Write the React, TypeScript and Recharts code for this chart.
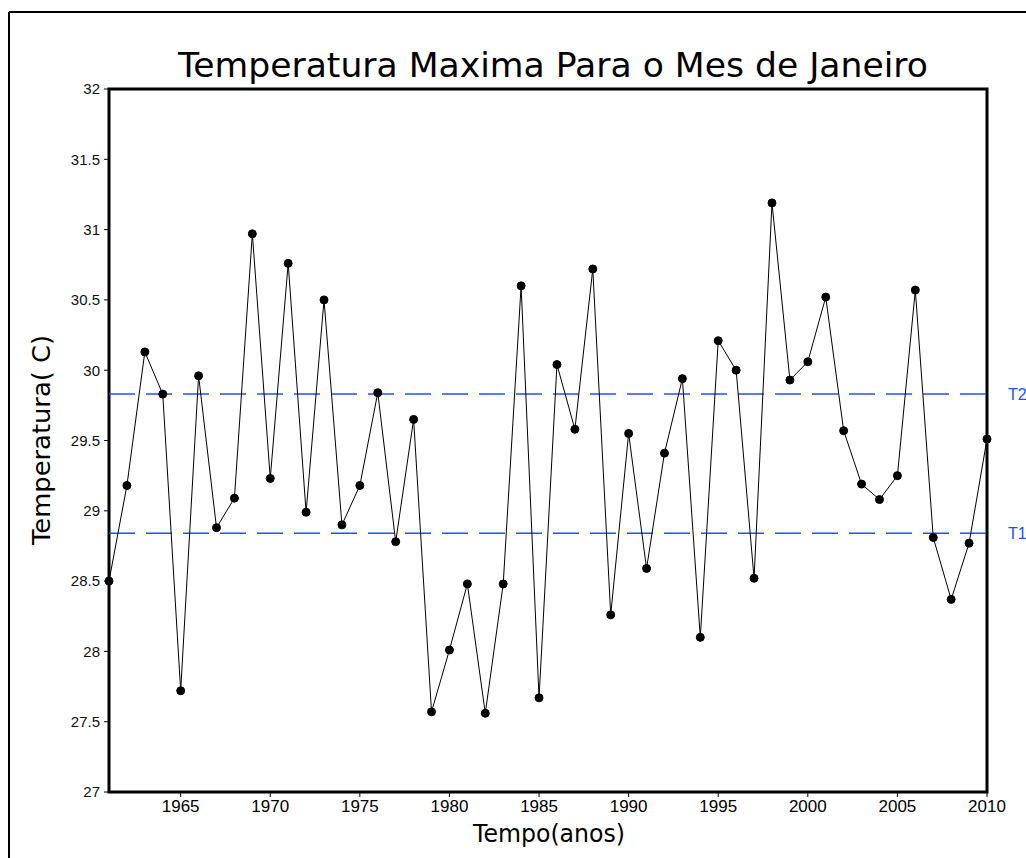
import React from 'react';
import { LineChart, Line, XAxis, YAxis, ReferenceLine, ReferenceArea } from 'recharts';

const years = [
  1961, 1962, 1963, 1964, 1965, 1966, 1967, 1968, 1969, 1970,
  1971, 1972, 1973, 1974, 1975, 1976, 1977, 1978, 1979, 1980,
  1981, 1982, 1983, 1984, 1985, 1986, 1987, 1988, 1989, 1990,
  1991, 1992, 1993, 1994, 1995, 1996, 1997, 1998, 1999, 2000,
  2001, 2002, 2003, 2004, 2005, 2006, 2007, 2008, 2009, 2010,
];

const tempMax = [
  28.5, 29.18, 30.13, 29.83, 27.72, 29.96, 28.88, 29.09, 30.97, 29.23,
  30.76, 28.99, 30.5, 28.9, 29.18, 29.84, 28.78, 29.65, 27.57, 28.01,
  28.48, 27.56, 28.48, 30.6, 27.67, 30.04, 29.58, 30.72, 28.26, 29.55,
  28.59, 29.41, 29.94, 28.1, 30.21, 30.0, 28.52, 31.19, 29.93, 30.06,
  30.52, 29.57, 29.19, 29.08, 29.25, 30.57, 28.81, 28.37, 28.77, 29.51,
];

const xTicks = [1965, 1970, 1975, 1980, 1985, 1990, 1995, 2000, 2005, 2010];
const yTicks = [27, 27.5, 28, 28.5, 29, 29.5, 30, 30.5, 31, 31.5, 32];

const T1 = 28.84;
const T2 = 29.83;

const data = years.map((year, i) => ({ year, tmax: tempMax[i] }));

const BLUE = '#2450ff';
const FONT = '"DejaVu Sans", sans-serif';

export default function App() {
  return (
    <div style={{ position: 'fixed', left: 0, top: 0, width: 1026, height: 858, background: '#fff' }}>
      <LineChart
        width={1026}
        height={858}
        data={data}
        margin={{ top: 89, right: 39, bottom: 36, left: 0 }}
      >
        <XAxis
          dataKey="year"
          type="number"
          domain={[1961, 2010]}
          ticks={xTicks}
          interval={0}
          height={30}
          axisLine={false}
          tickLine={{ stroke: '#000' }}
          tickSize={5}
          tickMargin={3}
          tick={{ fill: '#000', fontSize: 17, fontFamily: '"Liberation Sans Narrow", "Liberation Sans", sans-serif' }}
        />
        <YAxis
          type="number"
          domain={[27, 32]}
          ticks={yTicks}
          interval={0}
          width={109}
          axisLine={false}
          tickLine={{ stroke: '#000' }}
          tickSize={5}
          tickMargin={4}
          tick={{ fill: '#111', fontSize: 15, fontFamily: '"Liberation Sans", sans-serif' }}
        />
        <ReferenceLine
          y={T2}
          stroke={BLUE}
          strokeWidth={1.5}
          strokeDasharray="26 11"
          label={{ value: 'T2', position: 'right', offset: 21, fill: BLUE, fontSize: 16, fontFamily: '"Liberation Sans", sans-serif' }}
        />
        <ReferenceLine
          y={T1}
          stroke={BLUE}
          strokeWidth={1.5}
          strokeDasharray="26 11"
          label={{ value: 'T1', position: 'right', offset: 21, fill: BLUE, fontSize: 16, fontFamily: '"Liberation Sans", sans-serif' }}
        />
        <Line
          dataKey="tmax"
          type="linear"
          stroke="#000"
          strokeWidth={1}
          dot={{ r: 4, fill: '#000', stroke: '#000', strokeWidth: 1 }}
          isAnimationActive={false}
        />
        <ReferenceArea
          x1={1961}
          x2={2010}
          y1={27}
          y2={32}
          fill="none"
          fillOpacity={0}
          stroke="#000"
          strokeWidth={3}
        />
        {/* outer frame */}
        <line x1={9} y1={12} x2={1026} y2={12} stroke="#000" strokeWidth={2} />
        <line x1={9} y1={12} x2={9} y2={858} stroke="#000" strokeWidth={2} />
        <text x={553} y={77} textAnchor="middle" fontSize={34} fontFamily={FONT} textLength={750} lengthAdjust="spacingAndGlyphs" fill="#000">
          Temperatura Maxima Para o Mes de Janeiro
        </text>
        <text x={549} y={842} textAnchor="middle" fontSize={24} fontFamily={FONT} textLength={152} lengthAdjust="spacingAndGlyphs" fill="#000">
          Tempo(anos)
        </text>
        <text
          x={0}
          y={0}
          transform="translate(50 440) rotate(-90)"
          textAnchor="middle"
          fontSize={24}
          fontFamily={FONT}
          textLength={210}
          lengthAdjust="spacingAndGlyphs"
          fill="#000"
        >
          Temperatura( C)
        </text>
      </LineChart>
    </div>
  );
}
